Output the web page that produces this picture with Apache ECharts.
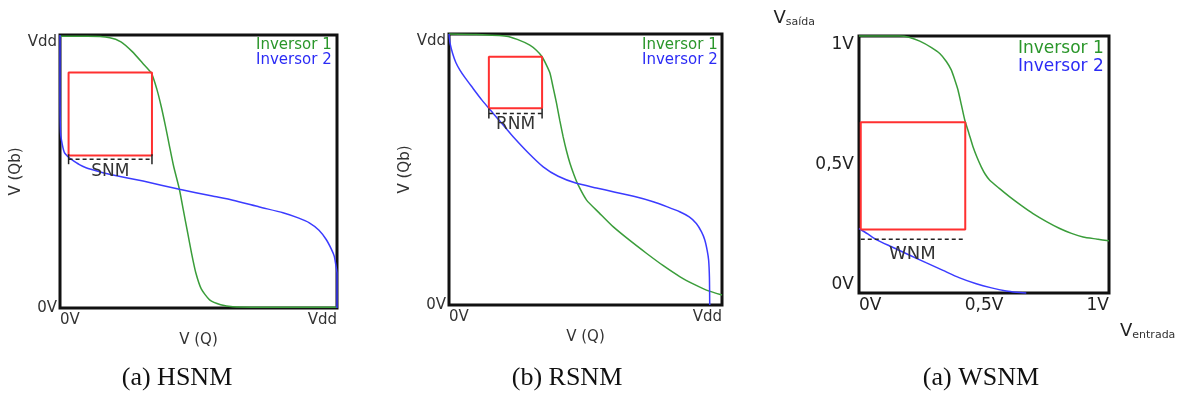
<!DOCTYPE html>
<html>
<head>
<meta charset="utf-8">
<script src="https://cdn.jsdelivr.net/npm/echarts@6/dist/echarts.min.js"></script>
<style>
  html, body { margin: 0; padding: 0; background: #fff; }
  #chart-container { width: 1181px; height: 398px; }
</style>
</head>
<body>
<div id="chart-container"></div>
<script>
// curve points, normalised 0..1 (x = V(Q), y = V(Qb))
const hsnmInv1 = [[0,0.995],[0.1,0.995],[0.18,0.99],[0.22,0.975],[0.26,0.94],[0.3,0.895],[0.33,0.86],[0.35,0.8],[0.365,0.74],[0.38,0.67],[0.395,0.594],[0.41,0.52],[0.431,0.435],[0.445,0.36],[0.461,0.275],[0.475,0.2],[0.49,0.13],[0.51,0.07],[0.54,0.03],[0.58,0.012],[0.624,0.005],[0.8,0.003],[1,0.003]]
const hsnmInv2 = [[0,1],[0,0.8],[0.002,0.643],[0.008,0.6],[0.016,0.569],[0.03,0.553],[0.04,0.545],[0.07,0.525],[0.094,0.514],[0.14,0.5],[0.178,0.49],[0.3,0.465],[0.431,0.435],[0.55,0.41],[0.624,0.395],[0.72,0.37],[0.805,0.349],[0.86,0.33],[0.9,0.312],[0.935,0.285],[0.961,0.251],[0.98,0.215],[0.99,0.19],[0.997,0.15],[1,0.128],[1,0]]

const rsnmInv1 = [[0,1],[0.1,0.998],[0.21,0.992],[0.25,0.98],[0.296,0.959],[0.32,0.94],[0.341,0.916],[0.357,0.885],[0.37,0.855],[0.382,0.8],[0.394,0.744],[0.406,0.68],[0.418,0.621],[0.43,0.57],[0.443,0.523],[0.458,0.48],[0.473,0.443],[0.504,0.387],[0.55,0.34],[0.601,0.289],[0.66,0.24],[0.723,0.191],[0.785,0.145],[0.845,0.105],[0.9,0.075],[0.943,0.055],[1,0.037]]
const rsnmInv2 = [[0,1],[0.004,0.965],[0.013,0.929],[0.025,0.895],[0.04,0.867],[0.06,0.837],[0.083,0.806],[0.12,0.757],[0.162,0.707],[0.2,0.662],[0.235,0.621],[0.29,0.562],[0.345,0.51],[0.4,0.475],[0.467,0.449],[0.54,0.432],[0.601,0.418],[0.68,0.4],[0.748,0.381],[0.8,0.362],[0.845,0.344],[0.88,0.325],[0.906,0.301],[0.925,0.27],[0.937,0.24],[0.946,0.2],[0.951,0.166],[0.954,0.1],[0.955,0]]

const wsnmInv1 = [[0,1],[0.163,1],[0.2,0.995],[0.243,0.98],[0.29,0.955],[0.323,0.932],[0.35,0.9],[0.369,0.868],[0.383,0.83],[0.396,0.79],[0.41,0.73],[0.423,0.673],[0.44,0.62],[0.456,0.569],[0.472,0.528],[0.489,0.491],[0.505,0.462],[0.523,0.439],[0.56,0.408],[0.603,0.374],[0.65,0.34],[0.696,0.309],[0.75,0.278],[0.803,0.251],[0.85,0.232],[0.896,0.218],[0.95,0.21],[1,0.203]]
const wsnmInv2 = [[0,0.251],[0.035,0.23],[0.069,0.208],[0.13,0.18],[0.203,0.147],[0.27,0.117],[0.336,0.088],[0.4,0.06],[0.469,0.036],[0.53,0.02],[0.589,0.008],[0.63,0.003],[0.669,0]]

// noise margin squares: [x0, x1, y0, y1], and the dashed measure line: [x0, x1, y]
const hsnmBox = [0.031, 0.332, 0.559, 0.863]
const hsnmMeasure = [0.031, 0.332, 0.545]
const rsnmBox = [0.146, 0.341, 0.726, 0.916]
const rsnmMeasure = [0.146, 0.341, 0.707]
const wsnmBox = [0.007, 0.425, 0.247, 0.664]
const wsnmMeasure = [0.007, 0.42, 0.209]

const marginNames = ['SNM', 'RNM', 'WNM']
const captions = ['(a) HSNM', '(b) RSNM', '(a) WSNM']
const vddTicks = ['0V', 'Vdd']
const voltTicks = ['0V', '0,5V', '1V']

const green = '#3a9d3a'
const blue = '#3b3bff'
const red = '#ff3030'
const font = 'DejaVu Sans'

const boxData = (b) => [[b[0],b[2]],[b[1],b[2]],[b[1],b[3]],[b[0],b[3]],[b[0],b[2]]]

const makeAxis = (ticks, interval, size, labelMargin) => ({
    type: 'value',
    min: 0,
    max: 1,
    interval: interval,
    splitLine: { show: false },
    axisTick: { show: false },
    axisLine: { show: false },
    axisLabel: {
        margin: labelMargin,
        fontFamily: font,
        fontSize: size,
        color: '#333',
        formatter: (v) => ticks[Math.round(v / interval)]
    }
})

const curveSeries = (name, data, color, idx) => ({
    name: name,
    type: 'line',
    xAxisIndex: idx,
    yAxisIndex: idx,
    data: data,
    showSymbol: false,
    smooth: 0.2,
    clip: false,
    lineStyle: { color: color, width: 1.5 },
    itemStyle: { color: color },
    z: 3
})

const boxSeries = (b, idx) => ({
    name: 'box' + idx,
    type: 'line',
    xAxisIndex: idx,
    yAxisIndex: idx,
    data: boxData(b),
    showSymbol: false,
    silent: true,
    lineStyle: { color: red, width: 2 },
    z: 4
})

const measureSeries = (m, idx, ticks, labelSize, dist) => ({
    name: 'measure' + idx,
    type: 'line',
    xAxisIndex: idx,
    yAxisIndex: idx,
    silent: true,
    symbol: 'rect',
    symbolSize: ticks ? [1.5, 10] : 0,
    showSymbol: true,
    lineStyle: { color: '#222', width: 1.5, type: [4, 3] },
    itemStyle: { color: '#222' },
    data: [
        [m[0], m[2]],
        {
            value: [(m[0] + m[1]) / 2, m[2]],
            symbolSize: 0,
            label: {
                show: true,
                position: 'bottom',
                distance: dist,
                formatter: marginNames[idx],
                fontFamily: font,
                fontSize: labelSize,
                color: '#333'
            }
        },
        [m[1], m[2]]
    ],
    z: 4
})

const legendFor = (left, top, size, lh) => ({
    left: left,
    top: top,
    orient: 'vertical',
    icon: 'none',
    itemWidth: 0,
    itemHeight: lh,
    itemGap: 0,
    padding: 0,
    selectedMode: false,
    textStyle: { fontFamily: font, fontSize: size, lineHeight: lh },
    data: [
        { name: 'Inversor 1', textStyle: { color: '#2a962a' } },
        { name: 'Inversor 2', textStyle: { color: '#2b2bf5' } }
    ]
})

const grids = [
    { left: 60, top: 35, width: 277, height: 273 },
    { left: 449, top: 34, width: 273, height: 271 },
    { left: 859, top: 36, width: 250, height: 257 }
].map(g => Object.assign(g, {
    show: true,
    borderColor: '#111',
    borderWidth: 3,
    backgroundColor: 'transparent',
    outerBoundsMode: 'none'
}))

const x0 = makeAxis(vddTicks, 1, 15, 5)
Object.assign(x0, { gridIndex: 0, name: 'V (Q)', nameLocation: 'middle', nameGap: 22,
    nameTextStyle: { fontFamily: font, fontSize: 15, color: '#333' } })
x0.axisLabel.alignMinLabel = 'left'
x0.axisLabel.alignMaxLabel = 'right'
const y0 = makeAxis(vddTicks, 1, 15, 3)
Object.assign(y0, { gridIndex: 0, name: 'V (Qb)', nameLocation: 'middle', nameGap: 34,
    nameTextStyle: { fontFamily: font, fontSize: 15, color: '#333' } })
y0.axisLabel.verticalAlignMaxLabel = 'top'

const x1 = makeAxis(vddTicks, 1, 15, 5)
Object.assign(x1, { gridIndex: 1, name: 'V (Q)', nameLocation: 'middle', nameGap: 18,
    nameTextStyle: { fontFamily: font, fontSize: 15, color: '#333' } })
x1.axisLabel.alignMinLabel = 'left'
x1.axisLabel.alignMaxLabel = 'right'
const y1 = makeAxis(vddTicks, 1, 15, 3)
Object.assign(y1, { gridIndex: 1, name: 'V (Qb)', nameLocation: 'middle', nameGap: 36,
    nameTextStyle: { fontFamily: font, fontSize: 15, color: '#333' } })
y1.axisLabel.verticalAlignMaxLabel = 'top'

const subRich = {
    v: { fontFamily: font, fontSize: 18, lineHeight: 20, color: '#222' },
    s: { fontFamily: font, fontSize: 11, lineHeight: 11, verticalAlign: 'bottom', color: '#333' }
}
const x2 = makeAxis(voltTicks, 0.5, 17, 4)
Object.assign(x2, { gridIndex: 2, name: '{v|V}{s|entrada}', nameLocation: 'end', nameGap: 11,
    nameTextStyle: { verticalAlign: 'top', padding: [28, 0, 0, 0], rich: subRich } })
x2.axisLabel.alignMinLabel = 'left'
x2.axisLabel.alignMaxLabel = 'right'
x2.axisLabel.color = '#222'
const y2 = makeAxis(voltTicks, 0.5, 17, 5)
Object.assign(y2, { gridIndex: 2, name: '{v|V}{s|saída}', nameLocation: 'end', nameGap: 8,
    nameTextStyle: { align: 'right', padding: [0, 44, 0, 0], rich: subRich } })
y2.axisLabel.verticalAlignMaxLabel = 'top'
y2.axisLabel.verticalAlignMinLabel = 'bottom'
y2.axisLabel.color = '#222'

const titles = [177, 567, 981].map((cx, i) => ({
    text: captions[i],
    left: cx,
    top: 365,
    textAlign: 'center',
    padding: 0,
    textStyle: { fontFamily: 'Liberation Serif', fontSize: 26, fontWeight: 'normal', color: '#111' }
}))

const chart = echarts.init(document.getElementById('chart-container'), null, { renderer: 'canvas' })
const option = {
    animation: false,
    backgroundColor: '#fff',
    title: titles,
    legend: [
        legendFor(251, 38, 15, 15),
        legendFor(637, 38, 15, 14),
        legendFor(1013, 40, 17, 18)
    ],
    grid: grids,
    xAxis: [x0, x1, x2],
    yAxis: [y0, y1, y2],
    series: [
        curveSeries('Inversor 1', hsnmInv1, green, 0),
        curveSeries('Inversor 2', hsnmInv2, blue, 0),
        boxSeries(hsnmBox, 0),
        measureSeries(hsnmMeasure, 0, true, 17, 4),
        curveSeries('Inversor 1', rsnmInv1, green, 1),
        curveSeries('Inversor 2', rsnmInv2, blue, 1),
        boxSeries(rsnmBox, 1),
        measureSeries(rsnmMeasure, 1, true, 17, 3),
        curveSeries('Inversor 1', wsnmInv1, green, 2),
        curveSeries('Inversor 2', wsnmInv2, blue, 2),
        boxSeries(wsnmBox, 2),
        measureSeries(wsnmMeasure, 2, false, 18, 6)
    ]
}
chart.setOption(option)
</script>
</body>
</html>
